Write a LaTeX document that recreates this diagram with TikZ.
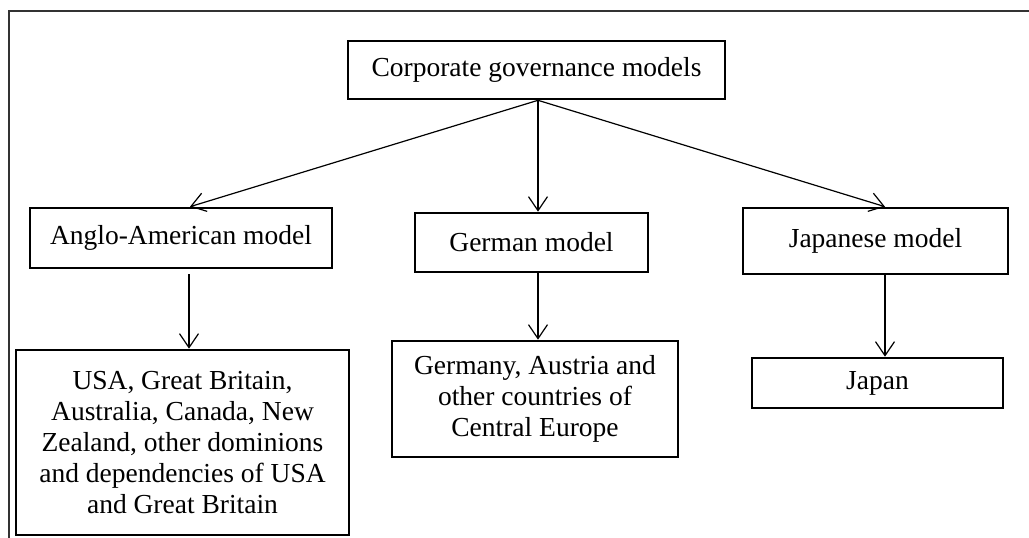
\documentclass[tikz,border=0pt]{standalone}
\usepackage{fontspec}
\setmainfont{Liberation Serif}
\usetikzlibrary{arrows.meta}

\tikzset{
  box/.style={draw, line width=2.6pt, inner sep=0pt, align=center,
              font=\fontsize{27.5}{31}\selectfont},
  link/.style={line width=1.2pt, -{Straight Barb[length=14pt,width=19pt]}},
  frame/.style={line width=2.5pt, black!80}
}

\begin{document}
\begin{tikzpicture}[x=1pt, y=-1pt]
  \useasboundingbox (0,0) rectangle (1029,538);

  % outer frame (top and left edges)
  \coordinate (fbl) at (9,540);
  \coordinate (ftl) at (9,11);
  \coordinate (ftr) at (1031,11);
  \draw[frame] (fbl) -- (ftl) -- (ftr);

  % root
  \node[box, minimum width=377pt, minimum height=58pt] (root) at (536.5,70)
    {Corporate governance models};

  % models
  \node[box, minimum width=302pt, minimum height=60pt] (anglo) at (181,238)
    {Anglo-American model};
  \node[box, minimum width=233pt, minimum height=59pt] (german) at (531.5,242.5)
    {German model};
  \node[box, minimum width=265pt, minimum height=66pt] (japanese) at (875.5,241)
    {Japanese model};

  % countries
  \node[box, minimum width=333pt, minimum height=185pt] (usa) at (182.5,442.5)
    {USA, Great Britain,\\ Australia, Canada, New\\ Zealand, other dominions\\
     and dependencies of USA\\ and Great Britain};
  \node[box, minimum width=286pt, minimum height=116pt] (germany) at (535,399)
    {Germany, Austria and\\ other countries of\\ Central Europe};
  \node[box, minimum width=251pt, minimum height=50pt] (japan) at (877.5,383)
    {Japan};

  % connectors from the root
  \coordinate (src) at ([xshift=1.5pt]root.south);
  \draw[link] (src) -- ([xshift=9pt]anglo.north);
  \draw[link] (src) -- (german.north -| src);
  \draw[link] (src) -- ([xshift=9.5pt]japanese.north);

  % connectors to the countries
  \draw[link] ([xshift=8pt, yshift=-5pt]anglo.south) -- ([xshift=6.5pt]usa.north);
  \draw[link] (german.south -| src) -- (germany.north -| src);
  \coordinate (jsrc) at ([xshift=9.5pt]japanese.south);
  \draw[link] (jsrc) -- (japan.north -| jsrc);
\end{tikzpicture}
\end{document}
